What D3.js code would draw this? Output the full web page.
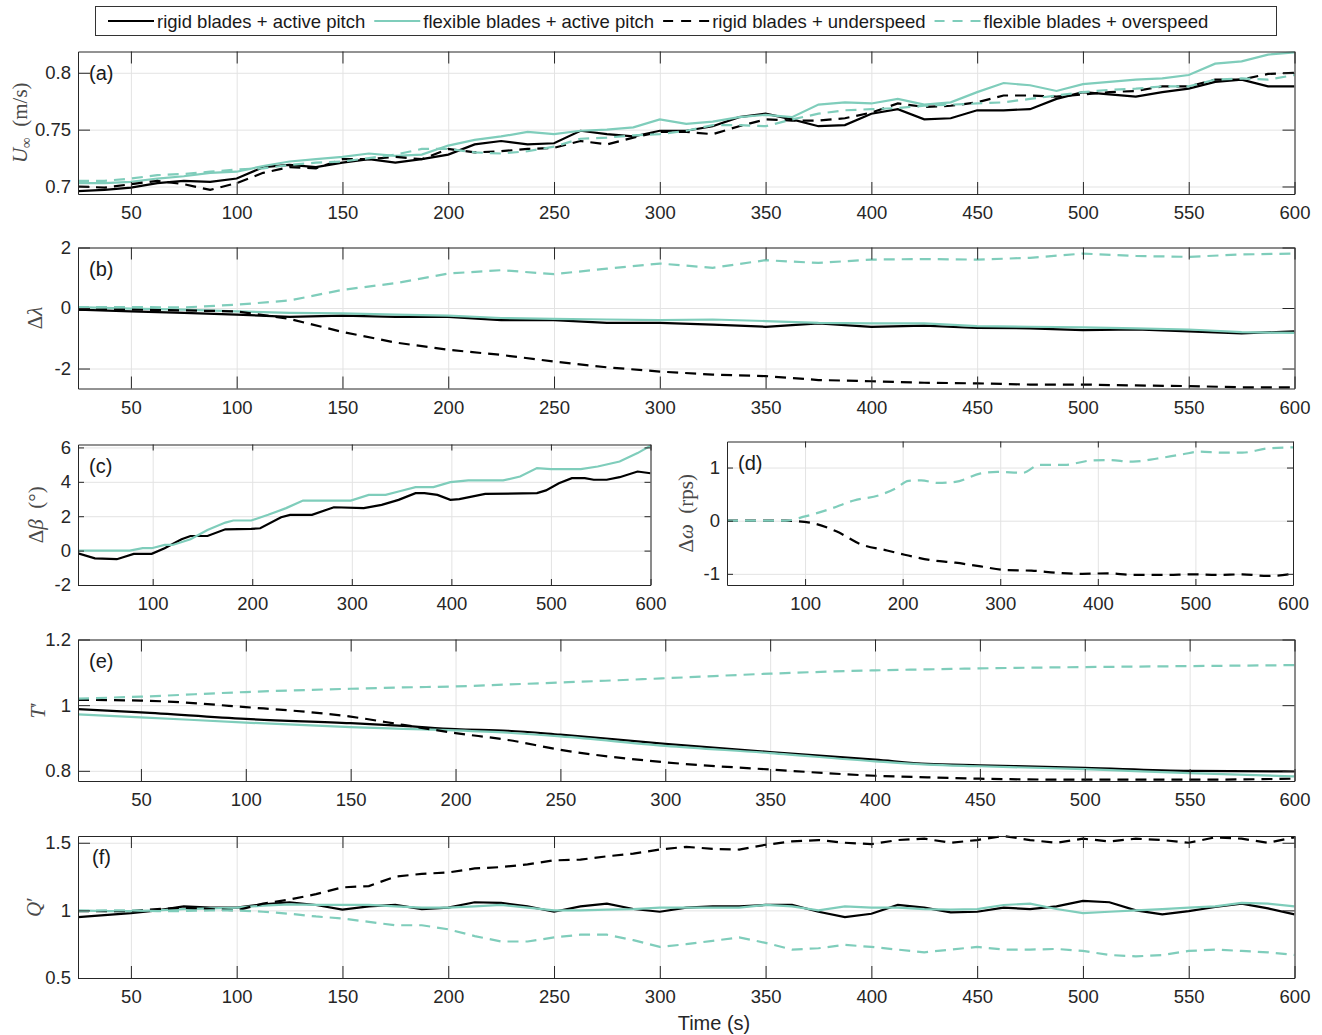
<!DOCTYPE html>
<html lang="en">
<head>
<meta charset="UTF-8">
<title>Rigid vs flexible blades</title>
<script src="https://cdnjs.cloudflare.com/ajax/libs/d3/7.9.0/d3.min.js"></script>
<style>
  body { margin: 0; background: #fff; }
  svg text { font-family: "Liberation Sans", Arial, Helvetica, sans-serif; }
  .axis .tick text { font-size: 18.5px; fill: #262626; }
  .axis path, .axis line { stroke: #262626; stroke-width: 1; }
  .grid line { stroke: #e3e3e3; stroke-width: 1; }
  .grid path { display: none; }
  .ylab { font-family: "Liberation Serif", "DejaVu Serif", serif !important; font-size: 21px; fill: #4a4a4a; }
  .plab { font-size: 20px; fill: #1a1a1a; }
</style>
</head>
<body>
<svg id="fig" width="1322" height="1035"></svg>
<script>
const TEAL = '#7fcdbb';
const DASH = '11,7';

const legendLabels = ['rigid blades + active pitch', 'flexible blades + active pitch',
                      'rigid blades + underspeed', 'flexible blades + overspeed'];

// (a) free stream velocity, sampled every 12.5 s
const tA = d3.range(25, 600.01, 12.5);
const uRigidPitch = [0.696, 0.697, 0.699, 0.703, 0.705, 0.704, 0.707, 0.717, 0.719, 0.717, 0.721, 0.724, 0.721, 0.724, 0.728, 0.737,
  0.740, 0.737, 0.738, 0.749, 0.746, 0.744, 0.749, 0.749, 0.753, 0.761, 0.764, 0.759, 0.753, 0.754, 0.764, 0.768, 0.759, 0.760,
  0.767, 0.767, 0.768, 0.777, 0.783, 0.781, 0.779, 0.783, 0.786, 0.792, 0.794, 0.788, 0.788];
const uFlexPitch = [0.703, 0.703, 0.704, 0.707, 0.709, 0.712, 0.713, 0.718, 0.722, 0.724, 0.726, 0.729, 0.727, 0.728, 0.736, 0.741,
  0.744, 0.748, 0.746, 0.749, 0.750, 0.752, 0.759, 0.755, 0.757, 0.761, 0.763, 0.761, 0.772, 0.774, 0.773, 0.777, 0.772, 0.774,
  0.783, 0.791, 0.789, 0.784, 0.790, 0.792, 0.794, 0.795, 0.798, 0.808, 0.810, 0.816, 0.818];
const uRigidUnder = [0.700, 0.699, 0.702, 0.705, 0.702, 0.697, 0.703, 0.712, 0.717, 0.716, 0.724, 0.724, 0.726, 0.724, 0.733, 0.730,
  0.731, 0.733, 0.734, 0.740, 0.737, 0.743, 0.748, 0.748, 0.746, 0.753, 0.759, 0.758, 0.758, 0.760, 0.765, 0.773, 0.770, 0.771,
  0.774, 0.780, 0.780, 0.779, 0.781, 0.783, 0.784, 0.788, 0.788, 0.794, 0.794, 0.799, 0.800];
const uFlexOver = [0.705, 0.705, 0.707, 0.710, 0.711, 0.713, 0.715, 0.716, 0.719, 0.721, 0.722, 0.725, 0.728, 0.733, 0.733, 0.730,
  0.729, 0.731, 0.735, 0.742, 0.743, 0.745, 0.746, 0.749, 0.754, 0.754, 0.753, 0.759, 0.764, 0.767, 0.768, 0.769, 0.771, 0.772,
  0.773, 0.774, 0.777, 0.780, 0.783, 0.785, 0.786, 0.788, 0.788, 0.794, 0.795, 0.794, 0.798];

// (b) tip speed ratio change, every 25 s
const tB = d3.range(25, 600.01, 25);
const lamRigidPitch = [-0.05, -0.11, -0.16, -0.22, -0.29, -0.25, -0.29, -0.29, -0.40, -0.40, -0.49, -0.49, -0.55, -0.62, -0.51,
  -0.62, -0.58, -0.66, -0.67, -0.73, -0.71, -0.77, -0.84, -0.77];
const lamFlexPitch = [0.03, -0.02, -0.05, -0.11, -0.16, -0.18, -0.22, -0.25, -0.33, -0.36, -0.38, -0.40, -0.38, -0.43, -0.49,
  -0.51, -0.51, -0.60, -0.62, -0.64, -0.67, -0.71, -0.80, -0.82];
const lamRigidUnder = [-0.05, -0.05, -0.08, -0.11, -0.36, -0.79, -1.14, -1.38, -1.55, -1.77, -1.96, -2.10, -2.20, -2.25, -2.38,
  -2.42, -2.47, -2.49, -2.53, -2.53, -2.56, -2.58, -2.62, -2.62];
const lamFlexOver = [0.03, 0.03, 0.02, 0.11, 0.25, 0.60, 0.82, 1.14, 1.25, 1.12, 1.30, 1.47, 1.33, 1.58, 1.49, 1.60, 1.62,
  1.60, 1.66, 1.80, 1.72, 1.69, 1.77, 1.80];

// (c) pitch angle change
const betaRigidTime = [25, 42, 64, 81, 99, 112, 129, 138, 155, 173, 199, 208, 229, 238, 260, 282, 312, 330, 347, 364, 373, 386,
  399, 408, 434, 486, 495, 508, 521, 534, 543, 556, 569, 587, 600];
const betaRigid = [-0.16, -0.45, -0.5, -0.19, -0.19, 0.14, 0.66, 0.85, 0.85, 1.24, 1.26, 1.3, 1.94, 2.08, 2.08, 2.52, 2.47, 2.66,
  2.95, 3.34, 3.34, 3.24, 2.95, 2.99, 3.3, 3.34, 3.5, 3.92, 4.21, 4.21, 4.12, 4.12, 4.27, 4.6, 4.5];
const betaFlexTime = [25, 77, 90, 99, 112, 120, 138, 155, 173, 181, 199, 216, 234, 251, 299, 317, 334, 347, 364, 382, 399, 417,
  452, 469, 486, 500, 530, 547, 569, 587, 600];
const betaFlex = [0, 0, 0.14, 0.14, 0.33, 0.33, 0.66, 1.2, 1.63, 1.75, 1.75, 2.08, 2.47, 2.91, 2.91, 3.24, 3.24, 3.44, 3.69, 3.69,
  3.98, 4.08, 4.08, 4.31, 4.8, 4.74, 4.74, 4.89, 5.18, 5.67, 6.1];

// (d) rotor speed change
const omegaUnderTime = [20, 80, 106, 132, 158, 184, 202, 228, 254, 280, 306, 332, 358, 384, 410, 436, 470, 496, 522, 548, 574, 600];
const omegaUnder = [0, 0, -0.04, -0.2, -0.45, -0.56, -0.64, -0.74, -0.79, -0.86, -0.93, -0.94, -0.98, -1.0, -0.99, -1.02, -1.02,
  -1.01, -1.02, -1.01, -1.04, -1.0];
const omegaOverTime = [20, 80, 100, 124, 150, 176, 193, 206, 219, 236, 254, 280, 297, 323, 340, 366, 392, 410, 436, 461, 487, 505,
  526, 548, 574, 600];
const omegaOver = [0, 0, 0.08, 0.21, 0.38, 0.48, 0.61, 0.75, 0.76, 0.71, 0.73, 0.89, 0.92, 0.9, 1.05, 1.05, 1.13, 1.14, 1.11,
  1.17, 1.25, 1.3, 1.28, 1.28, 1.36, 1.38];

// (e) normalised thrust
const tE = [20, 50, 100, 150, 175, 200, 225, 250, 300, 350, 400, 425, 450, 500, 550, 600];
const thrRigidPitch = [0.988, 0.978, 0.958, 0.945, 0.937, 0.927, 0.922, 0.910, 0.882, 0.857, 0.834, 0.821, 0.817, 0.809, 0.800, 0.798];
const thrFlexPitch = [0.972, 0.963, 0.947, 0.933, 0.928, 0.923, 0.916, 0.905, 0.876, 0.854, 0.829, 0.819, 0.814, 0.805, 0.793, 0.783];
const thrRigidUnder = [1.016, 1.014, 0.994, 0.965, 0.940, 0.915, 0.894, 0.864, 0.826, 0.804, 0.785, 0.780, 0.776, 0.773, 0.773, 0.776];
const thrFlexOver = [1.020, 1.026, 1.040, 1.050, 1.054, 1.057, 1.063, 1.069, 1.082, 1.096, 1.106, 1.109, 1.112, 1.116, 1.119, 1.122];

// (f) normalised torque, every 12.5 s
const tF = d3.range(25, 600.01, 12.5);
const trqRigidPitch = [0.95, 0.965, 0.98, 1.0, 1.03, 1.02, 1.02, 1.045, 1.06, 1.04, 1.005, 1.03, 1.04, 1.01, 1.02, 1.06, 1.055,
  1.03, 0.99, 1.03, 1.05, 1.01, 0.99, 1.02, 1.03, 1.03, 1.04, 1.04, 0.99, 0.95, 0.975, 1.04, 1.02, 0.985, 0.99, 1.02, 1.01, 1.03,
  1.07, 1.06, 1.0, 0.97, 0.995, 1.025, 1.05, 1.015, 0.97];
const trqFlexPitch = [1.0, 0.995, 0.995, 1.0, 1.01, 1.015, 1.02, 1.035, 1.045, 1.04, 1.04, 1.04, 1.03, 1.02, 1.02, 1.03, 1.04,
  1.02, 1.0, 1.0, 1.005, 1.01, 1.02, 1.02, 1.02, 1.02, 1.04, 1.03, 1.0, 1.03, 1.02, 1.02, 1.01, 1.005, 1.01, 1.04, 1.05, 1.01,
  0.98, 0.99, 1.0, 1.01, 1.02, 1.03, 1.055, 1.05, 1.03];
const trqRigidUnder = [0.995, 0.995, 0.995, 1.01, 1.02, 1.01, 1.0, 1.05, 1.08, 1.12, 1.17, 1.18, 1.25, 1.27, 1.28, 1.31, 1.32,
  1.34, 1.37, 1.375, 1.40, 1.42, 1.45, 1.47, 1.455, 1.45, 1.485, 1.51, 1.52, 1.50, 1.49, 1.52, 1.53, 1.50, 1.52, 1.55, 1.52, 1.50,
  1.53, 1.51, 1.53, 1.52, 1.50, 1.54, 1.53, 1.50, 1.54];
const trqFlexOver = [0.995, 1.0, 1.0, 0.995, 0.995, 1.0, 1.0, 0.99, 0.975, 0.955, 0.94, 0.915, 0.89, 0.89, 0.86, 0.81, 0.77,
  0.77, 0.80, 0.82, 0.82, 0.78, 0.73, 0.75, 0.775, 0.80, 0.76, 0.71, 0.72, 0.745, 0.73, 0.71, 0.69, 0.71, 0.73, 0.71, 0.71, 0.715,
  0.70, 0.67, 0.66, 0.67, 0.70, 0.71, 0.70, 0.69, 0.67];

const xTicks50 = d3.range(50, 601, 50);
const xTicks100 = d3.range(100, 601, 100);

const styles = [
  { color: '#000', dash: null },
  { color: TEAL, dash: null },
  { color: '#000', dash: DASH },
  { color: TEAL, dash: DASH }
];

const svg = d3.select('#fig');

const panels = [
  { id: 'a', left: 78, right: 1294.5, top: 51.5, bottom: 194, xDomain: [25, 600], yDomain: [0.6934, 0.8187],
    xTicks: xTicks50, yTicks: [0.7, 0.75, 0.8], tick: 12, ylabX: 27, label: 'U',
    series: [[tA, uRigidPitch, 0], [tA, uFlexPitch, 1], [tA, uRigidUnder, 2], [tA, uFlexOver, 3]] },
  { id: 'b', left: 78, right: 1294.5, top: 247.5, bottom: 388.5, xDomain: [25, 600], yDomain: [-2.66, 2],
    xTicks: xTicks50, yTicks: [-2, 0, 2], tick: 12, ylabX: 42, label: 'lam',
    series: [[tB, lamRigidPitch, 0], [tB, lamFlexPitch, 1], [tB, lamRigidUnder, 2], [tB, lamFlexOver, 3]] },
  { id: 'c', left: 78, right: 650.5, top: 444.5, bottom: 585, xDomain: [25, 600], yDomain: [-2, 6.17],
    xTicks: xTicks100, yTicks: [-2, 0, 2, 4, 6], tick: 6, ylabX: 43, label: 'beta',
    series: [[betaRigidTime, betaRigid, 0], [betaFlexTime, betaFlex, 1]] },
  { id: 'd', left: 727, right: 1293, top: 441.5, bottom: 585, xDomain: [20, 600], yDomain: [-1.21, 1.49],
    xTicks: xTicks100, yTicks: [-1, 0, 1], tick: 6, ylabX: 693, label: 'omega', curve: d3.curveMonotoneX,
    series: [[omegaUnderTime, omegaUnder, 2], [omegaOverTime, omegaOver, 3]] },
  { id: 'e', left: 78, right: 1294.5, top: 639.5, bottom: 781, xDomain: [20, 600], yDomain: [0.769, 1.2],
    xTicks: xTicks50, yTicks: [0.8, 1, 1.2], tick: 12, ylabX: 45, label: 'T', curve: d3.curveMonotoneX,
    series: [[tE, thrRigidPitch, 0], [tE, thrFlexPitch, 1], [tE, thrRigidUnder, 2], [tE, thrFlexOver, 3]] },
  { id: 'f', left: 78, right: 1294.5, top: 836, bottom: 978, xDomain: [25, 600], yDomain: [0.5, 1.55],
    xTicks: xTicks50, yTicks: [0.5, 1, 1.5], tick: 12, ylabX: 41, label: 'Q',
    series: [[tF, trqRigidPitch, 0], [tF, trqFlexPitch, 1], [tF, trqRigidUnder, 2], [tF, trqFlexOver, 3]] }
];

function yLabel(g, p) {
  const t = g.append('text').attr('class', 'ylab')
    .attr('transform', `translate(${p.ylabX},${(p.top + p.bottom) / 2}) rotate(-90)`)
    .attr('text-anchor', 'middle');
  if (p.label === 'U') {
    t.append('tspan').attr('font-style', 'italic').text('U');
    t.append('tspan').attr('font-size', '15px').attr('dy', 4).text('∞');
    t.append('tspan').attr('dy', -4).text('\u2002(m/s)');
  } else if (p.label === 'lam') {
    t.append('tspan').text('Δ');
    t.append('tspan').attr('font-style', 'italic').text('λ');
  } else if (p.label === 'beta') {
    t.append('tspan').text('Δ');
    t.append('tspan').attr('font-style', 'italic').text('β');
    t.append('tspan').text('\u2002(°)');
  } else if (p.label === 'omega') {
    t.append('tspan').text('Δ');
    t.append('tspan').attr('font-style', 'italic').text('ω');
    t.append('tspan').text('\u2002(rps)');
  } else {
    t.append('tspan').attr('font-style', 'italic').text(p.label);
    t.append('tspan').text('′');
  }
}

function drawPanel(p) {
  const g = svg.append('g');
  const w = p.right - p.left, h = p.bottom - p.top;
  const x = d3.scaleLinear().domain(p.xDomain).range([p.left, p.right]);
  const y = d3.scaleLinear().domain(p.yDomain).range([p.bottom, p.top]);

  // grid lines
  g.append('g').attr('class', 'grid').attr('transform', `translate(0,${p.bottom})`)
    .call(d3.axisBottom(x).tickValues(p.xTicks).tickSize(-h).tickFormat(''));
  g.append('g').attr('class', 'grid').attr('transform', `translate(${p.left},0)`)
    .call(d3.axisLeft(y).tickValues(p.yTicks).tickSize(-w).tickFormat(''));

  g.append('clipPath').attr('id', 'clip-' + p.id)
    .append('rect').attr('x', p.left).attr('y', p.top - 1).attr('width', w).attr('height', h + 2);

  const line = d3.line().curve(p.curve || d3.curveLinear);
  const lines = g.append('g').attr('clip-path', `url(#clip-${p.id})`);
  p.series.forEach(([ts, vs, k]) => {
    const st = styles[k];
    lines.append('path')
      .attr('d', line(ts.map((t, i) => [x(t), y(vs[i])])))
      .attr('fill', 'none')
      .attr('stroke', st.color)
      .attr('stroke-width', 2.2)
      .attr('stroke-dasharray', st.dash);
  });

  const fmt = d => String(d);
  g.append('g').attr('class', 'axis').attr('transform', `translate(0,${p.bottom})`)
    .call(d3.axisBottom(x).tickValues(p.xTicks).tickSizeInner(-p.tick).tickSizeOuter(0).tickPadding(12).tickFormat(fmt));
  g.append('g').attr('class', 'axis').attr('transform', `translate(0,${p.top})`)
    .call(d3.axisTop(x).tickValues(p.xTicks).tickSizeInner(-p.tick).tickSizeOuter(0).tickFormat(''));
  g.append('g').attr('class', 'axis').attr('transform', `translate(${p.left},0)`)
    .call(d3.axisLeft(y).tickValues(p.yTicks).tickSizeInner(-p.tick).tickSizeOuter(0).tickPadding(7).tickFormat(fmt));
  g.append('g').attr('class', 'axis').attr('transform', `translate(${p.right},0)`)
    .call(d3.axisRight(y).tickValues(p.yTicks).tickSizeInner(-p.tick).tickSizeOuter(0).tickFormat(''));

  g.append('text').attr('class', 'plab')
    .attr('x', p.left + (p.id === 'f' ? 14 : 11)).attr('y', p.top + 28)
    .text(`(${p.id})`);

  yLabel(g, p);
}

panels.forEach(drawPanel);

svg.append('text').attr('x', 714).attr('y', 1030).attr('text-anchor', 'middle')
  .attr('font-size', '20px').attr('fill', '#262626').text('Time (s)');

// legend
const leg = svg.append('g');
leg.append('rect').attr('x', 95.5).attr('y', 6.5).attr('width', 1181).attr('height', 29)
  .attr('fill', '#fff').attr('stroke', '#333').attr('stroke-width', 1);
let lx = 108;
legendLabels.forEach((lab, k) => {
  const st = styles[k];
  leg.append('line').attr('x1', lx).attr('x2', lx + 46).attr('y1', 21).attr('y2', 21)
    .attr('stroke', st.color).attr('stroke-width', 2.2)
    .attr('stroke-dasharray', st.dash ? '10,8' : null);
  const t = leg.append('text').attr('x', lx + 49).attr('y', 27.5)
    .attr('font-size', '18.5px').attr('fill', '#1a1a1a').text(lab);
  lx += 49 + t.node().getComputedTextLength() + 9;
});
</script>
</body>
</html>
